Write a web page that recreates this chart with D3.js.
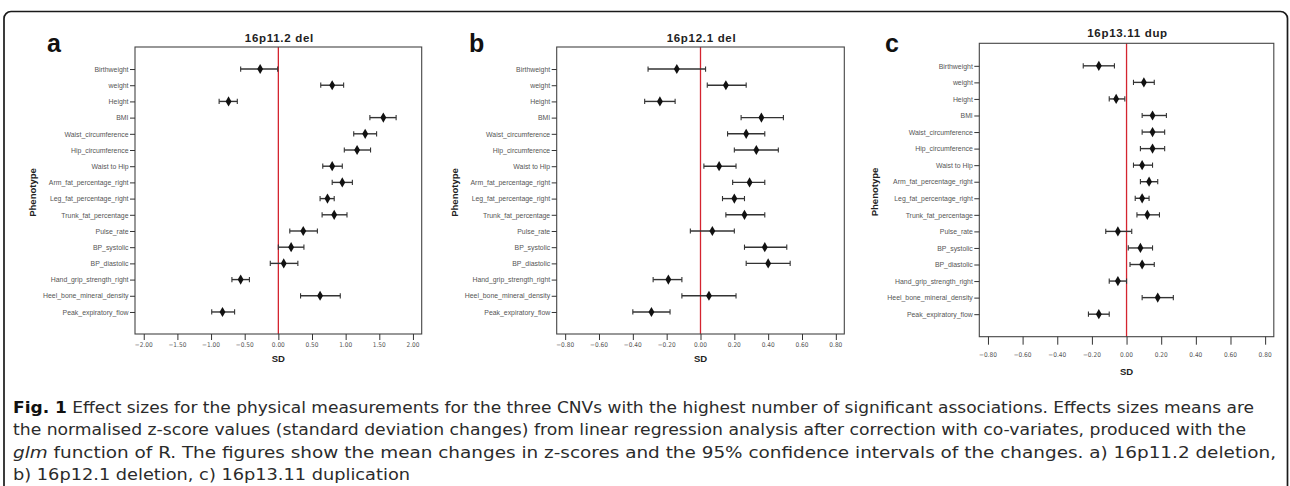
<!DOCTYPE html>
<html><head><meta charset="utf-8">
<script src="https://cdn.jsdelivr.net/npm/d3@7"></script>
<style>
html,body{margin:0;padding:0;background:#fff;}
svg{display:block;}
.cond{font-stretch:condensed;}
</style></head>
<body>
<svg id="chart" width="1290" height="486"></svg>
<script>
// ---------- DATA ----------
const phenotypes = ["Birthweight","weight","Height","BMI","Waist_circumference","Hip_circumference","Waist to Hip","Arm_fat_percentage_right","Leg_fat_percentage_right","Trunk_fat_percentage","Pulse_rate","BP_systolic","BP_diastolic","Hand_grip_strength_right","Heel_bone_mineral_density","Peak_expiratory_flow"];

// a) 16p11.2 del
const meanA = [-0.27, 0.80, -0.74, 1.56, 1.29, 1.17, 0.80, 0.95, 0.73, 0.83, 0.37, 0.19, 0.08, -0.56, 0.62, -0.83];
const lowA  = [-0.56, 0.63, -0.88, 1.36, 1.12, 0.98, 0.66, 0.80, 0.62, 0.65, 0.17, 0.00, -0.12, -0.69, 0.33, -0.99];
const highA = [-0.01, 0.97, -0.61, 1.75, 1.46, 1.37, 0.95, 1.10, 0.83, 1.02, 0.58, 0.38, 0.29, -0.43, 0.92, -0.65];

// b) 16p12.1 del
const meanB = [-0.14, 0.15, -0.24, 0.36, 0.27, 0.33, 0.11, 0.29, 0.20, 0.26, 0.07, 0.38, 0.40, -0.19, 0.05, -0.29];
const lowB  = [-0.31, 0.04, -0.33, 0.24, 0.16, 0.20, 0.02, 0.19, 0.13, 0.15, -0.06, 0.26, 0.27, -0.28, -0.11, -0.40];
const highB = [0.03, 0.27, -0.15, 0.49, 0.38, 0.46, 0.21, 0.38, 0.26, 0.38, 0.20, 0.51, 0.53, -0.11, 0.21, -0.18];

// c) 16p13.11 dup
const meanC = [-0.16, 0.10, -0.06, 0.15, 0.15, 0.15, 0.09, 0.13, 0.09, 0.12, -0.05, 0.08, 0.09, -0.05, 0.18, -0.16];
const lowC  = [-0.25, 0.04, -0.10, 0.09, 0.09, 0.08, 0.04, 0.08, 0.05, 0.06, -0.12, 0.01, 0.02, -0.10, 0.09, -0.22];
const highC = [-0.07, 0.16, -0.01, 0.23, 0.22, 0.22, 0.15, 0.18, 0.13, 0.19, 0.03, 0.15, 0.16, 0.00, 0.27, -0.10];

const ticksA  = [-2.0, -1.5, -1.0, -0.5, 0.0, 0.5, 1.0, 1.5, 2.0];
const ticksBC = [-0.8, -0.6, -0.4, -0.2, 0.0, 0.2, 0.4, 0.6, 0.8];

const panelLetters = ["a", "b", "c"];
const panelTitles  = ["16p11.2 del", "16p12.1 del", "16p13.11 dup"];
const xAxisTitle = "SD";
const yAxisTitle = "Phenotype";

const captionLead = ["Fig. 1", "", "glm", ""];
const captionLines = [
  " Effect sizes for the physical measurements for the three CNVs with the highest number of significant associations. Effects sizes means are",
  "the normalised z-score values (standard deviation changes) from linear regression analysis after correction with co-variates, produced with the",
  " function of R. The figures show the mean changes in z-scores and the 95% confidence intervals of the changes. a) 16p11.2 deletion,",
  "b) 16p12.1 deletion, c) 16p13.11 duplication"
];

// ---------- DRAW ----------
const svg = d3.select("#chart");
const sans = "Liberation Sans, Arial, Helvetica, sans-serif";
const condensed = "DejaVu Sans, sans-serif";

// outer rounded frame
svg.append("rect")
  .attr("x", 4).attr("y", 11.5).attr("width", 1283.5).attr("height", 600)
  .attr("rx", 7).attr("ry", 7)
  .attr("fill", "none").attr("stroke", "#1a1a1a").attr("stroke-width", 1.7);

const panels = [
  {mean: meanA, low: lowA, high: highA, ticks: ticksA, domain: [-2.13, 2.13],
   x0: 135, x1: 421.7, y0: 47, y1: 334, letterX: 47, titleY: 41.5, tickLen: 6, tickLabY: 346.5, sdY: 362, phenX: 36},
  {mean: meanB, low: lowB, high: highB, ticks: ticksBC, domain: [-0.85, 0.85],
   x0: 556.7, x1: 844.3, y0: 47, y1: 334, letterX: 469, titleY: 41.5, tickLen: 6, tickLabY: 346.5, sdY: 362, phenX: 458},
  {mean: meanC, low: lowC, high: highC, ticks: ticksBC, domain: [-0.85, 0.85],
   x0: 979.3, x1: 1273.8, y0: 43.3, y1: 336.7, letterX: 885, titleY: 37, tickLen: 8, tickLabY: 357, sdY: 375, phenX: 878}
];
const fmt = d3.format(".2f");

panels.forEach((p, i) => {
  const g = svg.append("g");
  const x = d3.scaleLinear().domain(p.domain).range([p.x0, p.x1]);
  const y = d3.scalePoint().domain(phenotypes).range([p.y0, p.y1]).padding(1.36);

  // panel letter
  g.append("text").attr("x", p.letterX).attr("y", 52)
    .attr("font-family", sans)
    .attr("font-weight", "bold").attr("font-size", 25).attr("fill", "#111")
    .text(panelLetters[i]);

  // title
  g.append("text").attr("x", (p.x0 + p.x1) / 2 + 1).attr("y", p.titleY)
    .attr("text-anchor", "middle")
    .attr("font-family", sans)
    .attr("font-weight", "bold").attr("font-size", 11.5).attr("letter-spacing", 0.7).attr("fill", "#222")
    .text(panelTitles[i]);

  // zero line
  g.append("line").attr("x1", x(0)).attr("x2", x(0)).attr("y1", p.y0).attr("y2", p.y1)
    .attr("stroke", "#d4242f").attr("stroke-width", 1.3);

  // box
  g.append("rect").attr("x", p.x0).attr("y", p.y0)
    .attr("width", p.x1 - p.x0).attr("height", p.y1 - p.y0)
    .attr("fill", "none").attr("stroke", "#444").attr("stroke-width", 1.1);

  // x axis
  const xAxis = d3.axisBottom(x).tickValues(p.ticks).tickFormat(fmt)
    .tickSize(p.tickLen).tickSizeOuter(0).tickPadding(2);
  const xg = g.append("g").attr("transform", `translate(0,${p.y1})`).call(xAxis);
  xg.select(".domain").remove();
  xg.selectAll(".tick line").attr("stroke", "#333").attr("stroke-width", 1);
  xg.selectAll(".tick text").remove();
  g.selectAll("text.xtl").data(p.ticks).join("text").attr("class", "xtl cond")
    .attr("x", d => x(d)).attr("y", p.tickLabY)
    .attr("text-anchor", "middle")
    .attr("font-family", condensed)
    .attr("font-size", 6.5).attr("fill", "#555")
    .text(d => fmt(d));

  // y axis
  const yAxis = d3.axisLeft(y).tickSize(5).tickSizeOuter(0).tickPadding(1.5);
  const yg = g.append("g").attr("transform", `translate(${p.x0},0)`).call(yAxis);
  yg.select(".domain").remove();
  yg.selectAll(".tick line").attr("stroke", "#333").attr("stroke-width", 1);
  yg.selectAll(".tick text")
    .attr("font-family", sans)
    .attr("font-size", 6.9).attr("fill", "#555");

  // axis titles
  g.append("text").attr("x", x(0)).attr("y", p.sdY).attr("text-anchor", "middle")
    .attr("font-family", sans)
    .attr("font-weight", "bold").attr("font-size", 9.5).attr("fill", "#222")
    .text(xAxisTitle);
  const cy = (p.y0 + p.y1) / 2 + 2;
  g.append("text").attr("transform", `translate(${p.phenX},${cy}) rotate(-90)`)
    .attr("text-anchor", "middle")
    .attr("font-family", sans)
    .attr("font-weight", "bold").attr("font-size", 9.5).attr("fill", "#222")
    .text(yAxisTitle);

  // error bars
  const rows = phenotypes.map((ph, k) => ({ph, m: p.mean[k], lo: p.low[k], hi: p.high[k]}));
  const eb = g.append("g").attr("stroke", "#333").attr("stroke-width", 1.4);
  eb.selectAll("line.bar").data(rows).join("line").attr("class", "bar")
    .attr("x1", d => x(d.lo)).attr("x2", d => x(d.hi))
    .attr("y1", d => y(d.ph)).attr("y2", d => y(d.ph));
  eb.selectAll("line.capL").data(rows).join("line").attr("class", "capL")
    .attr("x1", d => x(d.lo)).attr("x2", d => x(d.lo))
    .attr("y1", d => y(d.ph) - 2.6).attr("y2", d => y(d.ph) + 2.6).attr("stroke-width", 1.1);
  eb.selectAll("line.capR").data(rows).join("line").attr("class", "capR")
    .attr("x1", d => x(d.hi)).attr("x2", d => x(d.hi))
    .attr("y1", d => y(d.ph) - 2.6).attr("y2", d => y(d.ph) + 2.6).attr("stroke-width", 1.1);

  // markers
  const sym = d3.symbol().type(d3.symbolDiamond).size(30);
  g.selectAll("path.pt").data(rows).join("path").attr("class", "pt")
    .attr("transform", d => `translate(${x(d.m)},${y(d.ph)})`)
    .attr("d", sym).attr("fill", "#111");
});

// ---------- CAPTION ----------
const capColor = "#2b2b2b";
const capSize = 16.5;
const capY = [412.5, 435, 457.5, 479.5];
const capLen = [1241, 1233, 1263, 397];
captionLines.forEach((line, k) => {
  const t = svg.append("text").attr("class", "cond")
    .attr("x", 13).attr("y", capY[k])
    .attr("font-family", condensed).attr("font-size", capSize).attr("fill", capColor)
    .attr("textLength", capLen[k]).attr("lengthAdjust", "spacingAndGlyphs");
  if (captionLead[k]) {
    const tl = t.append("tspan").text(captionLead[k]);
    if (k === 0) tl.attr("font-weight", "bold").attr("fill", "#111");
    else tl.attr("font-style", "italic");
  }
  t.append("tspan").text(line);
});
</script>
</body></html>
